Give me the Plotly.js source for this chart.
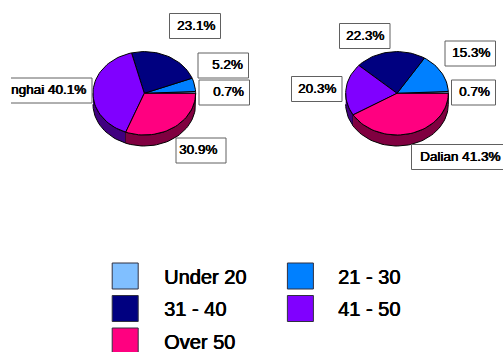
<!DOCTYPE html>
<html>
<head>
<meta charset="utf-8">
<script src="https://cdn.plot.ly/plotly-3.0.1.min.js"></script>
<style>html,body{margin:0;padding:0;background:#fff;overflow:hidden}#chart{width:503px;height:352px}</style>
</head>
<body>
<div id="chart"></div>
<script>
// Age distribution by city, drawn as two tilted pies with a shared key.
const ageGroups = ['Under 20', '21 - 30', '31 - 40', '41 - 50', 'Over 50'];
const shanghaiShares = [0.7, 5.2, 23.1, 40.1, 30.9];
const dalianShares = [0.7, 15.3, 22.3, 20.3, 41.3];
const topColors = ['#80BFFF', '#0080FF', '#000080', '#8000FF', '#FF0080'];
const wallColors = ['#406080', '#004080', '#000040', '#400080', '#800040'];

const RX = 51.3, RY = 41.7, DEPTH = 11;
const FONT = 'Liberation Sans, Arial, sans-serif';
const SMEAR = '0.6px 0 0 #000, 0 0.3px 0 #000';
const traces = [];

function polar(cx, cy, deg, drop) {
  const a = deg * Math.PI / 180;
  return [cx + RX * Math.cos(a), cy - RY * Math.sin(a) + (drop || 0)];
}

function arc(cx, cy, from, to, drop) {
  const steps = Math.max(2, Math.ceil(Math.abs(to - from) / 3));
  const pts = [];
  for (let i = 0; i <= steps; i++) {
    pts.push(polar(cx, cy, from + (to - from) * i / steps, drop));
  }
  return pts;
}

function addPoly(pts, fill) {
  traces.push({
    type: 'scatter', mode: 'lines', fill: 'toself', fillcolor: fill,
    x: pts.map(p => p[0]), y: pts.map(p => p[1]),
    line: {color: '#000', width: 1}, hoverinfo: 'skip', showlegend: false
  });
}

function addPie(cx, cy, shares) {
  const total = shares.reduce((s, v) => s + v, 0);
  const spans = [];
  let start = 0;
  shares.forEach(v => {
    const end = start + v / total * 360;
    spans.push([start, end]);
    start = end;
  });
  // Rim first, only where a slice faces the viewer (lower half of the ellipse).
  spans.forEach(([a, b], i) => {
    const from = Math.max(a, 180), to = Math.min(b, 360);
    if (to <= from) return;
    addPoly([...arc(cx, cy, from, to, 0), ...arc(cx, cy, to, from, DEPTH)], wallColors[i]);
  });
  spans.forEach(([a, b], i) => {
    addPoly([[cx, cy], ...arc(cx, cy, a, b, 0), [cx, cy]], topColors[i]);
  });
}

addPie(144.3, 93.3, shanghaiShares);
addPie(397, 93.3, dalianShares);

// Key swatches
const keyX = [125.2, 300.4, 125.2, 300.4, 125.2];
const keyY = [276, 276, 308.5, 308.5, 341];
const keyTextX = [162, 336.3, 162, 336.3, 162];
ageGroups.forEach((g, i) => {
  traces.push({
    type: 'scatter', mode: 'markers', name: g,
    x: [keyX[i]], y: [keyY[i]],
    marker: {symbol: 'square', size: 26, color: topColors[i], line: {color: '#303040', width: 1}},
    hoverinfo: 'skip', showlegend: false
  });
});

// Callout boxes: left, right, top, text centre x, left edge open
const boxes = [
  [169.5, 220.5, 13.5, 38.5, '23.1%', 195.5, false],
  [198, 248.5, 53, 78, '5.2%', 227.5, false],
  [199, 249.5, 80, 105, '0.7%', 228.5, false],
  [11, 92, 78, 103, 'nghai 40.1%', 48.5, true],
  [176, 226, 138, 163, '30.9%', 197.5, false],
  [339.5, 390, 23.5, 48.5, '22.3%', 365, false],
  [445, 495.5, 41, 66, '15.3%', 470.5, false],
  [451.5, 495.5, 80, 105, '0.7%', 474, false],
  [291.5, 342, 76.5, 101.5, '20.3%', 317, false],
  [411.5, 520, 144.5, 169.5, 'Dalian 41.3%', 460, false]
];
const shapes = [];
boxes.forEach(b => {
  shapes.push({
    type: 'rect', xref: 'x', yref: 'y', x0: b[0], x1: b[1], y0: b[2], y1: b[3],
    fillcolor: '#fff', line: {color: b[6] ? 'rgba(0,0,0,0)' : '#606060', width: 1}, layer: 'above'
  });
  if (b[6]) {
    shapes.push({
      type: 'path', xref: 'x', yref: 'y', layer: 'above',
      path: `M${b[0]},${b[2]}L${b[1]},${b[2]}L${b[1]},${b[3]}L${b[0]},${b[3]}`,
      line: {color: '#606060', width: 1}
    });
  }
});
const annotations = boxes.map(b => ({
  xref: 'x', yref: 'y', x: b[5], y: (b[2] + b[3]) / 2 - 1, text: b[4], showarrow: false,
  xanchor: 'center', yanchor: 'middle',
  font: {family: FONT, size: 13.5, color: '#000', shadow: SMEAR}
}));
ageGroups.forEach((g, i) => {
  annotations.push({
    xref: 'x', yref: 'y', x: keyTextX[i], y: keyY[i] + 0.5, text: g, showarrow: false,
    xanchor: 'left', yanchor: 'middle',
    font: {family: FONT, size: 20, color: '#000', shadow: SMEAR}
  });
});

const layout = {
  width: 503, height: 352, margin: {l: 0, r: 0, t: 0, b: 0},
  paper_bgcolor: '#fff', plot_bgcolor: '#fff', showlegend: false,
  xaxis: {range: [0, 503], visible: false, fixedrange: true},
  yaxis: {range: [352, 0], visible: false, fixedrange: true},
  shapes, annotations
};
Plotly.newPlot('chart', traces, layout, {staticPlot: true, displayModeBar: false});
</script>
</body>
</html>
